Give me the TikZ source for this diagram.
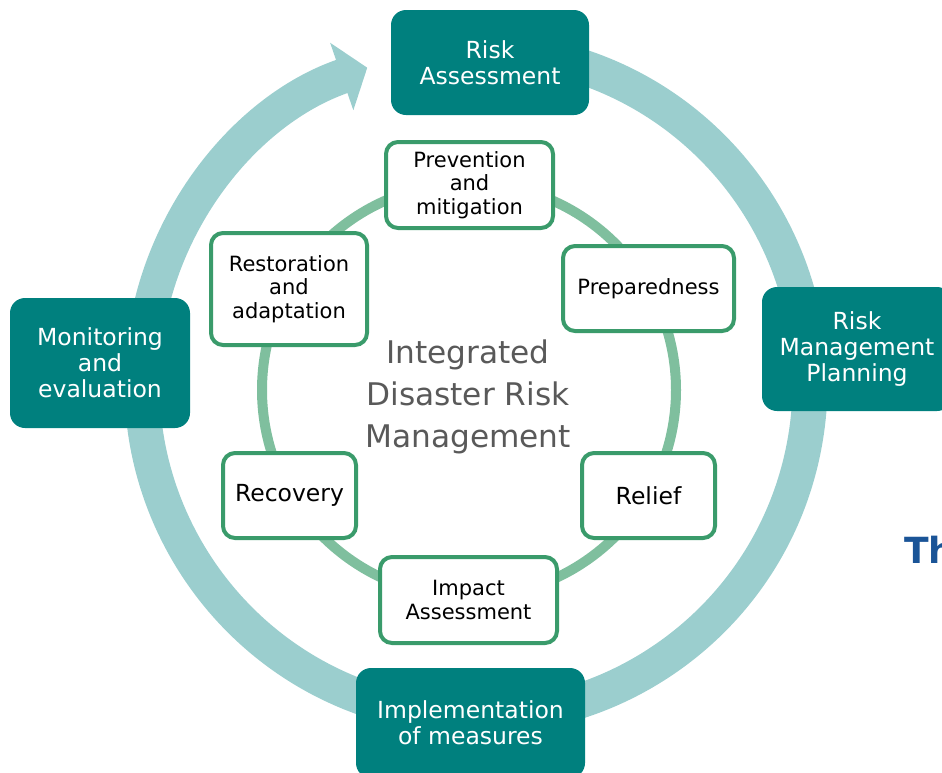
\documentclass[tikz,border=0pt]{standalone}
\usepackage{fontspec}
\setmainfont{DejaVu Sans}
\usepackage{tikz}
\usetikzlibrary{arrows.meta}

\definecolor{darkteal}{RGB}{0,128,126}
\definecolor{ringlight}{RGB}{155,206,206}
\definecolor{ringgreen}{RGB}{127,191,158}
\definecolor{boxgreen}{RGB}{58,155,107}
\definecolor{midgray}{RGB}{89,89,89}
\definecolor{thblue}{RGB}{26,84,151}

\begin{document}
\begin{tikzpicture}[x=0.5pt,y=-0.5pt,
  cycle/.style={fill=darkteal, text=white, rounded corners=7.5pt, align=center, inner sep=0pt,
    font=\fontsize{11.75}{13}\selectfont},
  phase/.style={draw=boxgreen, line width=2pt, fill=white, rounded corners=6pt, align=center, inner sep=0pt,
    font=\fontsize{10.5}{11.75}\selectfont},
  bigphase/.style={phase, font=\fontsize{11.75}{13}\selectfont}]
\useasboundingbox (0,0) rectangle (942,772);
\clip (0,0) rectangle (942,772);

\coordinate (c_out) at (476,383.5);
\coordinate (c_in) at (469,390);

% outer cycle with arrow
\draw[ringlight, line width=17.5pt, -{Triangle[width=35pt,length=13.5pt]}]
  ([shift={(-80:334)}]c_out) arc[start angle=-80, end angle=251, radius=334];
% inner ring
\draw[ringgreen, line width=5pt] (c_in) circle[radius=207];

% outer cycle
\node[cycle, minimum width=99pt, minimum height=52.5pt] (assess) at (490,62.5) {Risk\\Assessment};
\node[cycle, minimum width=95pt, minimum height=62pt] (plan) at (857,349) {Risk\\Management\\Planning};
\node[cycle, minimum width=114.5pt, minimum height=55pt] (impl) at (470.5,723) {Implementation\\of measures};
\node[cycle, minimum width=90pt, minimum height=65pt] (monitor) at (100,363) {Monitoring\\and\\evaluation};

% inner phases
\node[phase, minimum width=83.5pt, minimum height=43pt] (prevent) at (469.5,185) {Prevention\\and\\mitigation};
\node[phase, minimum width=85.5pt, minimum height=42.5pt] (prepare) at (648.5,288.5) {Preparedness};
\node[bigphase, minimum width=66.5pt, minimum height=42.5pt] (relief) at (648.5,495.5) {Relief};
\node[phase, minimum width=88.5pt, minimum height=43pt] (impact) at (468.5,600) {Impact\\Assessment};
\node[bigphase, minimum width=66.5pt, minimum height=42.5pt] (recover) at (289.5,495.5) {Recovery};
\node[phase, minimum width=78pt, minimum height=56pt] (restore) at (289,289) {Restoration\\and\\adaptation};

\node[text=midgray, align=center, font=\fontsize{15.6}{21}\selectfont] (idrm) at (468,397)
  {Integrated\\Disaster Risk\\Management};

\node[anchor=base west, inner sep=0pt, text=thblue, font=\bfseries\fontsize{18}{20}\selectfont] (th) at (904,563) {Th};
\end{tikzpicture}
\end{document}
